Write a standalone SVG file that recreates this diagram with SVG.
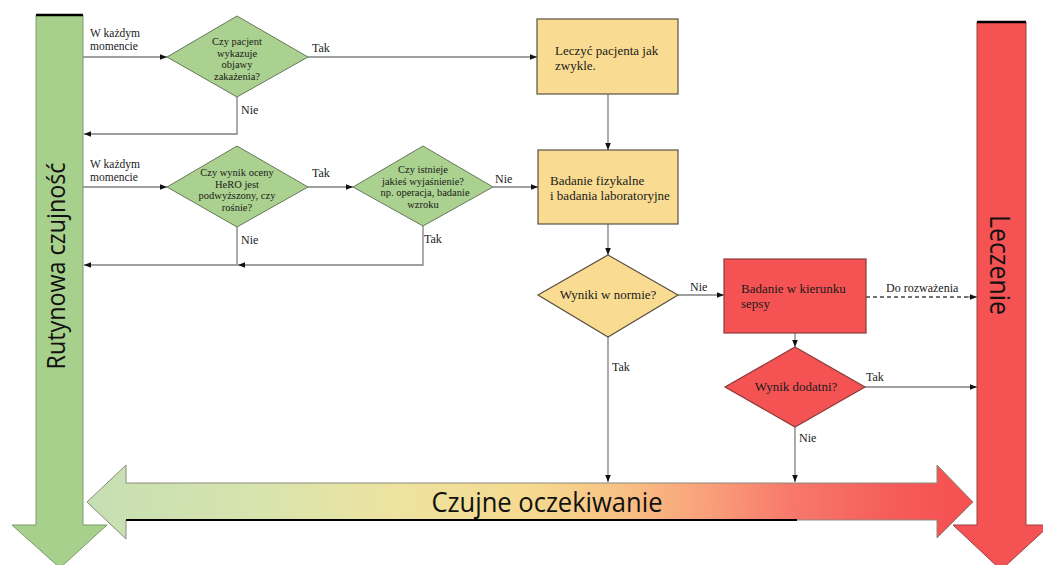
<svg xmlns="http://www.w3.org/2000/svg" width="1043" height="565" viewBox="0 0 1043 565">
<style>
.bg{fill:#ffffff}
.gdia{fill:#aad18f;stroke:#66785a;stroke-width:1}
.ybox{fill:#f9dc92;stroke:#5a5040;stroke-width:1.2}
.rbox{fill:#f55353;stroke:#8a3a3a;stroke-width:1.2}
.conn{fill:none;stroke:#808080;stroke-width:1.3}
.dash{fill:none;stroke:#707070;stroke-width:2.2;stroke-dasharray:4 3}
.t{font-family:"Liberation Serif","DejaVu Serif",serif;fill:#1a1a1a}
.lab{font-size:12px}
.lab2{font-size:11.5px}
.dt{font-size:10.5px}
.bt{font-size:13px}
.big{font-family:"Open Sans","Noto Sans","Liberation Sans",sans-serif;fill:#111}
</style>
<defs>
<marker id="ah" viewBox="0 0 10 10" refX="10" refY="5" markerWidth="7" markerHeight="7" markerUnits="userSpaceOnUse" orient="auto">
<path d="M0,1 L10,5 L0,9 Z" fill="#111"/>
</marker>
<linearGradient id="hg" x1="87" y1="0" x2="973" y2="0" gradientUnits="userSpaceOnUse">
<stop offset="0" stop-color="#c5dfb3"/>
<stop offset="0.2" stop-color="#d8e4ad"/>
<stop offset="0.35" stop-color="#eee3a0"/>
<stop offset="0.5" stop-color="#f5da90"/>
<stop offset="0.6" stop-color="#f8c285"/>
<stop offset="0.7" stop-color="#f9a07a"/>
<stop offset="0.8" stop-color="#f7776a"/>
<stop offset="0.92" stop-color="#f55a58"/>
<stop offset="1" stop-color="#f55050"/>
</linearGradient>
</defs>
<rect class="bg" x="0" y="0" width="1043" height="565"/>

<g id="arrow-left">
<polygon points="36,15 83,15 83,525 107,525 60,568 12,525 36,525" fill="#a6d08b" stroke="#7c9a6c" stroke-width="1"/>
<line x1="36" y1="15" x2="83" y2="15" stroke="#000" stroke-width="2.5"/>
<text class="big" font-size="25" transform="translate(65,266) rotate(-90)" text-anchor="middle" textLength="207" lengthAdjust="spacingAndGlyphs">Rutynowa czujność</text>
</g>

<g id="arrow-bottom">
<polygon points="87,502 126,465 126,483 937,483 937,465 973,502 937,538 937,520 126,520 126,539" fill="url(#hg)" stroke="#8a8a7a" stroke-width="1"/>
<line x1="126" y1="520" x2="797" y2="520" stroke="#000" stroke-width="2"/>
<text class="big" font-size="27" x="547" y="512" text-anchor="middle" textLength="231" lengthAdjust="spacingAndGlyphs">Czujne oczekiwanie</text>
</g>

<g id="arrow-right">
<polygon points="977,22 1026,22 1026,525 1050,525 1001,570 953,525 977,525" fill="#f55353" stroke="#9a4040" stroke-width="1"/>
<line x1="977" y1="22" x2="1026" y2="22" stroke="#000" stroke-width="2.5"/>
<text class="big" font-size="28" transform="translate(990,265) rotate(90)" text-anchor="middle" textLength="100" lengthAdjust="spacingAndGlyphs">Leczenie</text>
</g>

<g id="connectors">
<line class="conn" x1="83" y1="57" x2="167" y2="57" marker-end="url(#ah)"/>
<line class="conn" x1="308" y1="57" x2="537" y2="57" marker-end="url(#ah)"/>
<polyline class="conn" points="237,97 237,134 84,134" marker-end="url(#ah)"/>
<line class="conn" x1="608" y1="94" x2="608" y2="150" marker-end="url(#ah)"/>
<line class="conn" x1="83" y1="187" x2="167" y2="187" marker-end="url(#ah)"/>
<line class="conn" x1="308" y1="187" x2="353" y2="187" marker-end="url(#ah)"/>
<line class="conn" x1="493" y1="187" x2="538" y2="187" marker-end="url(#ah)"/>
<polyline class="conn" points="237,227 237,265 84,265" marker-end="url(#ah)"/>
<polyline class="conn" points="423,226 423,265 238,265" marker-end="url(#ah)"/>
<line class="conn" x1="608" y1="224" x2="608" y2="255" marker-end="url(#ah)"/>
<line class="conn" x1="678" y1="295" x2="724" y2="295" marker-end="url(#ah)"/>
<line class="conn" x1="608" y1="337" x2="608" y2="482" marker-end="url(#ah)"/>
<line class="dash" x1="866" y1="297" x2="971" y2="297"/>
<line class="conn" x1="966" y1="297" x2="977" y2="297" marker-end="url(#ah)"/>
<line class="conn" x1="795" y1="333" x2="795" y2="347" marker-end="url(#ah)"/>
<line class="conn" x1="865" y1="387" x2="977" y2="387" marker-end="url(#ah)"/>
<line class="conn" x1="795" y1="427" x2="795" y2="482" marker-end="url(#ah)"/>
<text class="t lab2" x="90" y="37">W każdym</text>
<text class="t lab2" x="90" y="50">momencie</text>
<text class="t lab" x="312" y="52">Tak</text>
<text class="t lab" x="241" y="114">Nie</text>
<text class="t lab2" x="90" y="168">W każdym</text>
<text class="t lab2" x="90" y="181">momencie</text>
<text class="t lab" x="312" y="177">Tak</text>
<text class="t lab" x="241" y="244">Nie</text>
<text class="t lab" x="495" y="183">Nie</text>
<text class="t lab" x="424" y="243">Tak</text>
<text class="t lab" x="690" y="291">Nie</text>
<text class="t lab" x="612" y="371">Tak</text>
<text class="t lab" x="886" y="292">Do rozważenia</text>
<text class="t lab" x="866" y="381">Tak</text>
<text class="t lab" x="799" y="442">Nie</text>
</g>

<g id="d1">
<polygon class="gdia" points="237,16 308,57 237,97 167,57"/>
<text class="t dt" text-anchor="middle" x="237" y="45">Czy pacjent</text>
<text class="t dt" text-anchor="middle" x="237" y="56.7">wykazuje</text>
<text class="t dt" text-anchor="middle" x="237" y="68.4">objawy</text>
<text class="t dt" text-anchor="middle" x="237" y="80.1">zakażenia?</text>
</g>

<g id="d2">
<polygon class="gdia" points="237,146 308,187 237,227 167,187"/>
<text class="t dt" text-anchor="middle" x="237" y="176">Czy wynik oceny</text>
<text class="t dt" text-anchor="middle" x="237" y="187.7">HeRO jest</text>
<text class="t dt" text-anchor="middle" x="237" y="199.4">podwyższony, czy</text>
<text class="t dt" text-anchor="middle" x="237" y="211.1">rośnie?</text>
</g>

<g id="d3">
<polygon class="gdia" points="423,146 493,187 423,226 353,187"/>
<text class="t dt" text-anchor="middle" x="423" y="173">Czy istnieje</text>
<text class="t dt" text-anchor="middle" x="423" y="184.7">jakieś wyjaśnienie?</text>
<text class="t dt" text-anchor="middle" x="425" y="196.4">np. operacja, badanie</text>
<text class="t dt" text-anchor="middle" x="423" y="208.1">wzroku</text>
</g>

<g id="b1">
<rect class="ybox" x="537" y="19" width="141" height="75"/>
<text class="t bt" x="555" y="55">Leczyć pacjenta jak</text>
<text class="t bt" x="555" y="70">zwykle.</text>
</g>

<g id="b2">
<rect class="ybox" x="538" y="150" width="140" height="74"/>
<text class="t bt" x="550" y="185">Badanie fizykalne</text>
<text class="t bt" x="550" y="200">i badania laboratoryjne</text>
</g>

<g id="d4">
<polygon class="ybox" points="608,255 678,295 608,337 538,295"/>
<text class="t bt" text-anchor="middle" x="608" y="299">Wyniki w normie?</text>
</g>

<g id="b3">
<rect class="rbox" x="724" y="259" width="142" height="74"/>
<text class="t bt" x="741" y="293">Badanie w kierunku</text>
<text class="t bt" x="741" y="308">sepsy</text>
</g>

<g id="d5">
<polygon class="rbox" points="795,347 865,387 795,427 725,387"/>
<text class="t bt" text-anchor="middle" x="796" y="391">Wynik dodatni?</text>
</g>
</svg>
